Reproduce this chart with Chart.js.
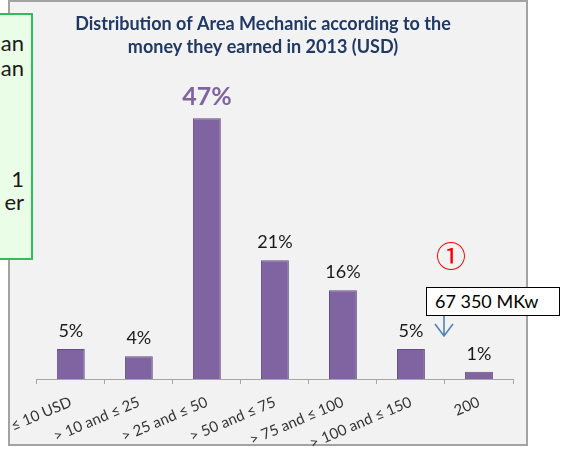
<!DOCTYPE html>
<html>
<head>
<meta charset="utf-8">
<script src="https://cdn.jsdelivr.net/npm/chart.js@4.4.0/dist/chart.umd.min.js"></script>
<style>
  html, body { margin: 0; padding: 0; background: #fff; }
  body { width: 562px; height: 454px; position: relative; overflow: hidden; font-family: Lato, sans-serif; }
  #frame { position: absolute; left: 8px; top: 0; width: 520px; height: 446px; box-sizing: border-box;
           background: #f2f2f2; border: 2px solid #a3a3a3; }
  #chart { position: absolute; left: 0; top: 0; }
  #note { position: absolute; left: -4px; top: 13px; width: 37px; height: 247px; box-sizing: border-box;
          background: #eafde7; border: 2px solid #2cbf5c; overflow: hidden; }
  #note span { position: absolute; right: 7px; font-size: 22px; color: #1a1a1a; line-height: 22px; }
  #mark { position: absolute; left: 436px; top: 237px; font-family: "Noto Sans CJK JP"; font-size: 30px;
          line-height: 34px; color: #ff0000; }
  #power { position: absolute; left: 426px; top: 287px; width: 134px; height: 29px; box-sizing: border-box;
           background: #fff; border: 1.5px solid #000; font-size: 18px; line-height: 26px; padding-left: 8px; color: #000; }
  #arrow { position: absolute; left: 432px; top: 315px; }
</style>
</head>
<body>
<div id="frame"></div>
<canvas id="chart" width="562" height="454"></canvas>
<div id="note">
  <span style="top:17px">an</span>
  <span style="top:42px">an</span>
  <span style="top:153px">1</span>
  <span style="top:176px">er</span>
</div>
<div id="mark">①</div>
<div id="power">67 350 MKw</div>
<svg id="arrow" width="24" height="24">
  <path d="M12 1 L12 21 M3 9 L12 21 L21 9" fill="none" stroke="#4f81bd" stroke-width="1.6"/>
</svg>
<script>
// Données
const categories = ['≤ 10 USD', '> 10 and ≤ 25', '> 25 and ≤ 50', '> 50 and ≤ 75', '> 75 and ≤ 100', '> 100 and ≤ 150', '200'];
const shares = [5.4, 4.1, 47, 21.4, 16, 5.4, 1.3];
const shareLabels = ['5%', '4%', '47%', '21%', '16%', '5%', '1%'];
const highlight = 2;

// Étiquettes au-dessus des barres
const barLabels = {
    id: 'barLabels',
    afterDatasetsDraw(chart) {
        const ctx = chart.ctx;
        const meta = chart.getDatasetMeta(0);
        ctx.save();
        ctx.textAlign = 'center';
        ctx.textBaseline = 'alphabetic';
        meta.data.forEach((bar, i) => {
            if (i === highlight) {
                ctx.font = 'bold 25px Lato';
                ctx.fillStyle = '#8064a2';
                ctx.fillText(shareLabels[i], bar.x, bar.y - 13);
            } else {
                ctx.font = '18px Lato';
                ctx.fillStyle = '#1a1a1a';
                ctx.fillText(shareLabels[i], bar.x, bar.y - 12);
            }
        });
        ctx.restore();
    }
};

const ctx = document.getElementById('chart').getContext('2d');
const chart = new Chart(ctx, {
    type: 'bar',
    data: {
        labels: categories,
        datasets: [{
            data: shares,
            backgroundColor: '#8064a2',
            borderColor: '#654d87',
            borderWidth: 1,
            categoryPercentage: 1,
            barPercentage: 0.41,
        }]
    },
    options: {
        responsive: false,
        animation: false,
        layout: { padding: { left: 13, right: 49, top: 0, bottom: 0 } },
        plugins: {
            legend: { display: false },
            tooltip: { enabled: false },
            title: {
                display: true,
                text: ['Distribution of Area Mechanic according to the', 'money they earned in 2013 (USD)'],
                color: '#1f3864',
                font: { family: 'Lato', size: 18, weight: 'bold', lineHeight: 1.28 },
                padding: { top: 13, bottom: 42.5 },
            },
        },
        scales: {
            x: {
                grid: { offset: true, drawOnChartArea: false, drawTicks: true, tickLength: 5, color: '#a6a6a6' },
                border: { display: true, color: '#a6a6a6' },
                ticks: {
                    autoSkip: false,
                    maxRotation: 23,
                    minRotation: 23,
                    padding: 9,
                    color: '#333333',
                    font: { family: 'Lato', size: 15 },
                },
                afterFit(scale) { scale.height = 75; },
            },
            y: {
                min: 0,
                max: 50,
                grid: { display: false },
                border: { display: false },
                ticks: { display: false },
                afterFit(scale) { scale.width = 23; },
            },
        },
    },
    plugins: [barLabels],
});
</script>
</body>
</html>
